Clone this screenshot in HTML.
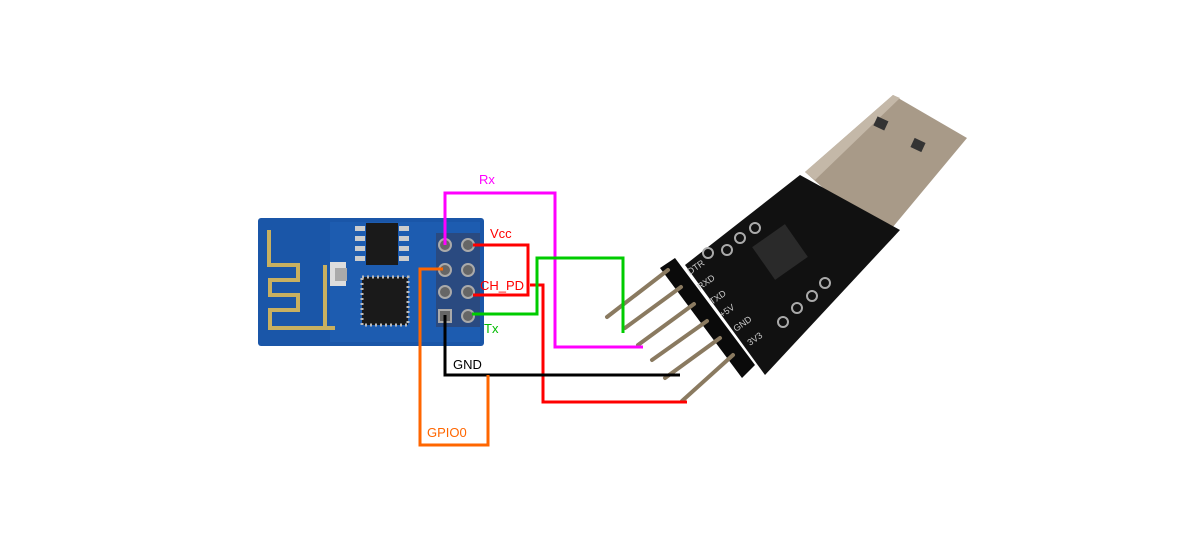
<!DOCTYPE html>
<html><head><meta charset="utf-8"><style>
html,body{margin:0;padding:0;background:#fff;width:1200px;height:560px;overflow:hidden}
text{font-family:"Liberation Sans",sans-serif;font-size:13px}
</style></head><body>
<svg width="1200" height="560" viewBox="0 0 1200 560" xmlns="http://www.w3.org/2000/svg">
<!-- ESP board -->
<rect x="258" y="218" width="226" height="128" rx="3" fill="#1a56a8"/>
<rect x="330" y="222" width="150" height="120" fill="#1d5cb0"/>
<!-- antenna -->
<path d="M269 230 V265 H298 V280 H270 V295 H298 V310 H270 V328 H335 M325 328 V265" fill="none" stroke="#c8b060" stroke-width="4"/>
<!-- flash chip -->
<rect x="366" y="223" width="32" height="42" fill="#1a1a1a"/>
<g fill="#ccc"><rect x="355" y="226" width="10" height="5"/><rect x="355" y="236" width="10" height="5"/><rect x="355" y="246" width="10" height="5"/><rect x="355" y="256" width="10" height="5"/>
<rect x="399" y="226" width="10" height="5"/><rect x="399" y="236" width="10" height="5"/><rect x="399" y="246" width="10" height="5"/><rect x="399" y="256" width="10" height="5"/></g>
<!-- main chip -->
<rect x="362" y="277" width="46" height="48" fill="#1a1a1a" stroke="#bbb" stroke-width="3" stroke-dasharray="2 3"/>
<rect x="330" y="262" width="16" height="24" fill="#ddd"/>
<rect x="335" y="268" width="12" height="13" fill="#aaa"/>
<!-- pin header -->
<rect x="436" y="233" width="44" height="94" fill="#2a4a80"/>
<g fill="#666" stroke="#aaa" stroke-width="2">
<circle cx="445" cy="245" r="6"/><circle cx="468" cy="245" r="6"/>
<circle cx="445" cy="270" r="6"/><circle cx="468" cy="270" r="6"/>
<circle cx="445" cy="292" r="6"/><circle cx="468" cy="292" r="6"/>
<rect x="439" y="310" width="12" height="12"/><circle cx="468" cy="316" r="6"/></g>

<!-- USB adapter -->
<polygon points="805,172 893,95 967,138 882,240" fill="#a89a88"/>
<polygon points="805,172 893,95 900,98 815,180" fill="#c4b8a8"/>
<rect x="875" y="118" width="12" height="10" fill="#333" transform="rotate(25 880 123)"/>
<rect x="912" y="140" width="12" height="10" fill="#333" transform="rotate(25 918 145)"/>
<polygon points="685,265 800,175 900,230 765,375" fill="#111"/>
<polygon points="660,268 675,258 755,365 742,378" fill="#0a0a0a"/>
<rect x="760" y="232" width="40" height="40" fill="#2a2a2a" transform="rotate(-35 780 252)"/>
<g fill="none" stroke="#aaa" stroke-width="2">
<circle cx="740" cy="238" r="5"/><circle cx="755" cy="228" r="5"/><circle cx="727" cy="250" r="5"/><circle cx="708" cy="253" r="5"/>
<circle cx="825" cy="283" r="5"/><circle cx="812" cy="296" r="5"/><circle cx="797" cy="308" r="5"/><circle cx="783" cy="322" r="5"/></g>
<g fill="#ccc" font-size="9">
<text x="690" y="275" transform="rotate(-35 690 275)" style="font-size:9px">DTR</text>
<text x="700" y="290" transform="rotate(-35 700 290)" style="font-size:9px">RXD</text>
<text x="712" y="305" transform="rotate(-35 712 305)" style="font-size:9px">TXD</text>
<text x="722" y="318" transform="rotate(-35 722 318)" style="font-size:9px">+5V</text>
<text x="736" y="332" transform="rotate(-35 736 332)" style="font-size:9px">GND</text>
<text x="750" y="346" transform="rotate(-35 750 346)" style="font-size:9px">3V3</text></g>
<g stroke="#8a7a60" stroke-width="4" stroke-linecap="round">
<line x1="668" y1="270" x2="607" y2="317"/>
<line x1="681" y1="287" x2="625" y2="328"/>
<line x1="694" y1="304" x2="638" y2="345"/>
<line x1="707" y1="321" x2="652" y2="360"/>
<line x1="720" y1="338" x2="665" y2="378"/>
<line x1="733" y1="355" x2="682" y2="401"/></g>

<!-- wires -->
<g fill="none" stroke-width="3">
<polyline points="445,245 445,193 555,193 555,347 643,347" stroke="#ff00ff"/>
<polyline points="473,245 528,245 528,295 473,295" stroke="#ff0000"/>
<polyline points="530,285 543,285 543,402 687,402" stroke="#ff0000"/>
<polyline points="472,314 537,314 537,258 623,258 623,333" stroke="#00cc00"/>
<polyline points="445,315 445,375 680,375" stroke="#000"/>
<polyline points="443,269 420,269 420,445 488,445 488,375" stroke="#ff6600"/>
</g>
<text x="479" y="184" fill="#ff00ff">Rx</text>
<text x="490" y="238" fill="#ff0000">Vcc</text>
<text x="480" y="290" fill="#ff0000">CH_PD</text>
<text x="484" y="333" fill="#00bb00">Tx</text>
<text x="453" y="369" fill="#000">GND</text>
<text x="427" y="437" fill="#ff6600">GPIO0</text>
</svg>
</body></html>
